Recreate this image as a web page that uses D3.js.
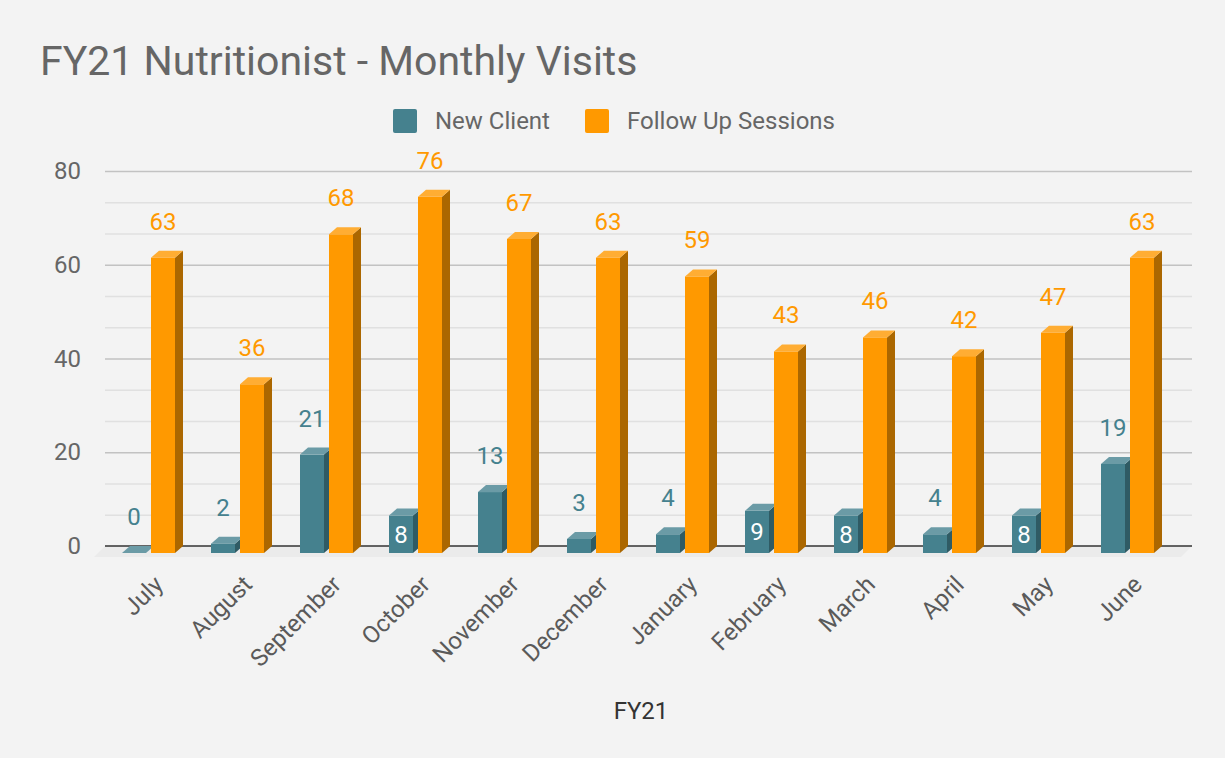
<!DOCTYPE html>
<html>
<head>
<meta charset="utf-8">
<script src="https://cdn.jsdelivr.net/npm/d3@7"></script>
<style>
  body { margin: 0; background: #f3f3f3; }
  svg { display: block; }
  text { font-family: Roboto, "Noto Sans", sans-serif; }
</style>
</head>
<body>
<svg id="chart"></svg>
<script>
var months = ["July", "August", "September", "October", "November", "December",
              "January", "February", "March", "April", "May", "June"];
var newClient = [0, 2, 21, 8, 13, 3, 4, 9, 8, 4, 8, 19];
var followUp = [63, 36, 68, 76, 67, 63, 59, 43, 46, 42, 47, 63];
var seriesNames = ["New Client", "Follow Up Sessions"];
var yTicks = [0, 20, 40, 60, 80];

var width = 1225, height = 758;
var dx = 8, dy = 7;           // 3d depth offset
var gridLeft = 105, gridRight = 1192;

var colors = {
    "New Client": { front: "#45818e", side: "#2f5b64", top: "#6b9ba6", label: "#45818e" },
    "Follow Up Sessions": { front: "#ff9900", side: "#ab6700", top: "#ffad33", label: "#ff9900" }
};

var svg = d3.select("#chart").attr("width", width).attr("height", height);

svg.append("rect").attr("width", width).attr("height", height).attr("fill", "#f3f3f3");

// back wall scale (gridlines), front face = back + dy
var y = d3.scaleLinear().domain([0, 80]).range([546, 171]);
var x = d3.scaleBand().domain(months).range([104, 1172]);
var x1 = d3.scaleBand().domain(seriesNames).range([-26.5, 26.5]).paddingInner(5 / 29);

// title
svg.append("text")
    .attr("x", 40).attr("y", 75)
    .style("font-size", "41px")
    .style("fill", "#666666")
    .text("FY21 Nutritionist - Monthly Visits");

// legend
var legendX = [393, 585];
var legend = svg.append("g").selectAll("g")
    .data(seriesNames)
    .enter()
    .append("g")
    .attr("transform", function (d, i) { return "translate(" + legendX[i] + ",109)"; });
legend.append("rect")
    .attr("width", 24).attr("height", 24).attr("rx", 2)
    .attr("fill", function (d) { return colors[d].front; });
legend.append("text")
    .attr("x", 42).attr("y", 20)
    .style("font-size", "24px")
    .style("fill", "#666666")
    .text(function (d) { return d; });

// gridlines
var minorTicks = d3.range(1, 12).filter(function (i) { return i % 3; }).map(function (i) { return i * 20 / 3; });
var minorGrid = svg.append("g")
    .attr("transform", "translate(" + gridLeft + ",0)")
    .call(d3.axisLeft(y).tickValues(minorTicks).tickSize(-(gridRight - gridLeft)).tickFormat(""));
minorGrid.select(".domain").remove();
minorGrid.selectAll("line").attr("stroke", "#e0e0e0").attr("stroke-width", 1.5);

var majorGrid = svg.append("g")
    .attr("transform", "translate(" + gridLeft + ",0)")
    .call(d3.axisLeft(y).tickValues(yTicks.slice(1)).tickSize(-(gridRight - gridLeft)).tickFormat(""));
majorGrid.select(".domain").remove();
majorGrid.selectAll("line").attr("stroke", "#c2c2c2").attr("stroke-width", 1.5);

// y tick labels
var yAxis = svg.append("g")
    .attr("transform", "translate(81,0)")
    .call(d3.axisLeft(y).tickValues(yTicks).tickSize(0).tickPadding(0));
yAxis.select(".domain").remove();
yAxis.selectAll("text")
    .style("font-size", "24px")
    .style("font-family", "Roboto, sans-serif")
    .attr("fill", "#666666");

// floor
var base = y(0);
svg.append("polygon")
    .attr("points", [[gridLeft, base], [gridRight, base], [gridRight - 11, base + 11], [gridLeft - 11, base + 11]].join(" "))
    .attr("fill", "#ebebeb");
svg.append("line")
    .attr("x1", gridLeft).attr("x2", gridRight)
    .attr("y1", base).attr("y2", base)
    .attr("stroke", "#333333").attr("stroke-width", 1.5);

// bars
var rows = [];
months.forEach(function (m, i) {
    rows.push({ month: m, series: "New Client", value: newClient[i] });
    rows.push({ month: m, series: "Follow Up Sessions", value: followUp[i] });
});

var w = x1.bandwidth();
function barX(d) { return x(d.month) + x.bandwidth() / 2 + x1(d.series); }

var bars = svg.append("g").selectAll("g")
    .data(rows)
    .enter()
    .append("g");

bars.append("rect")
    .attr("x", barX)
    .attr("y", function (d) { return y(d.value) + dy; })
    .attr("width", w)
    .attr("height", function (d) { return base - y(d.value); })
    .attr("fill", function (d) { return colors[d.series].front; });

bars.append("polygon")
    .attr("points", function (d) {
        var x0 = barX(d) + w, yt = y(d.value) + dy;
        return [[x0, yt], [x0 + dx, yt - dy], [x0 + dx, base], [x0, base + dy]].join(" ");
    })
    .attr("fill", function (d) { return colors[d.series].side; });

bars.append("polygon")
    .attr("points", function (d) {
        var x0 = barX(d), yt = y(d.value) + dy;
        return [[x0, yt], [x0 + dx, yt - dy], [x0 + w + dx, yt - dy], [x0 + w, yt]].join(" ");
    })
    .attr("fill", function (d) { return colors[d.series].top; });

// value labels
function inside(d) { return d.value >= 8 && d.value < 10; }
bars.append("text")
    .attr("x", function (d) { return barX(d) + w / 2; })
    .attr("y", function (d) {
        if (inside(d)) return (y(d.value) + dy + base + dy) / 2 + 8.5;
        return y(d.value) - 21;
    })
    .attr("text-anchor", "middle")
    .style("font-size", "24px")
    .style("fill", function (d) { return inside(d) ? "#ffffff" : colors[d.series].label; })
    .text(function (d) { return d.value; });

// x axis labels
var xAxis = svg.append("g")
    .call(d3.axisBottom(x).tickSize(0));
xAxis.select(".domain").remove();
xAxis.selectAll("text")
    .attr("x", 0).attr("y", 0).attr("dy", 0)
    .attr("transform", "translate(16,586) rotate(-45)")
    .attr("text-anchor", "end")
    .style("font-size", "24px")
    .style("font-family", "Roboto, sans-serif")
    .attr("fill", "#5a5a5a");

// axis title
svg.append("text")
    .attr("x", 641).attr("y", 719)
    .attr("text-anchor", "middle")
    .style("font-size", "24px")
    .style("fill", "#333333")
    .text("FY21");
</script>
</body>
</html>
